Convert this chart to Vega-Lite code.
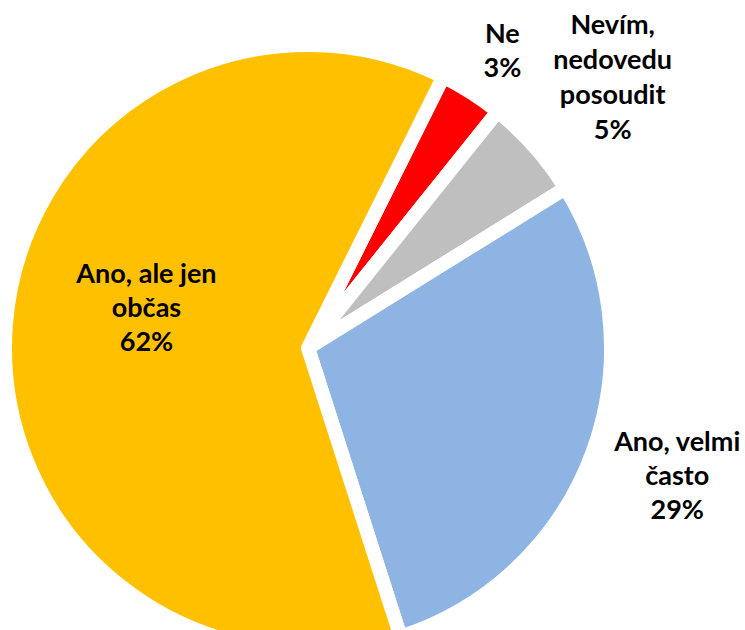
{
  "$schema": "https://vega.github.io/schema/vega-lite/v6.json",
  "width": 616,
  "height": 564,
  "autosize": {"type": "none"},
  "padding": {"left": 0, "top": 66, "right": 129, "bottom": 0},
  "background": "white",
  "view": {"stroke": null},
  "data": {
    "values": [
      {"i": 1, "cat": "Ne", "value": 3.4, "label": "Ne\n3%"},
      {"i": 2, "cat": "Nevím, nedovedu posoudit", "value": 5.4, "label": "Nevím,\nnedovedu\nposoudit\n5%"},
      {"i": 3, "cat": "Ano, velmi často", "value": 28.9, "label": "Ano, velmi\nčasto\n29%"},
      {"i": 4, "cat": "Ano, ale jen občas", "value": 62.3, "label": "Ano, ale jen\nobčas\n62%"}
    ]
  },
  "encoding": {
    "theta": {"field": "value", "type": "quantitative", "stack": true, "scale": {"range": [0.4625, 6.7457]}},
    "order": {"field": "i", "type": "quantitative"},
    "detail": {"field": "cat", "type": "nominal"}
  },
  "layer": [
    {
      "mark": {"type": "arc", "radius": 303, "stroke": "white", "strokeWidth": 14, "strokeJoin": "round"},
      "encoding": {
        "color": {
          "field": "cat", "type": "nominal", "legend": null,
          "scale": {
            "domain": ["Ne", "Nevím, nedovedu posoudit", "Ano, velmi často", "Ano, ale jen občas"],
            "range": ["#FF0000", "#BFBFBF", "#8EB4E3", "#FFC000"]
          }
        }
      }
    },
    {
      "mark": {"type": "text", "radius": 355, "dx": 3, "dy": -14, "font": "Lato", "fontWeight": "bold", "fontSize": 27, "lineBreak": "\n", "lineHeight": 34, "baseline": "middle", "align": "center", "color": "black"},
      "encoding": {"text": {"condition": {"test": "datum.cat === 'Ne'", "field": "label"}, "value": ""}}
    },
    {
      "mark": {"type": "text", "radius": 407, "dy": -52, "font": "Lato", "fontWeight": "bold", "fontSize": 27, "lineBreak": "\n", "lineHeight": 35, "baseline": "middle", "align": "center", "color": "black"},
      "encoding": {"text": {"condition": {"test": "datum.cat === 'Nevím, nedovedu posoudit'", "field": "label"}, "value": ""}}
    },
    {
      "mark": {"type": "text", "radius": 387, "dx": 6, "dy": -39, "font": "Lato", "fontWeight": "bold", "fontSize": 27, "lineBreak": "\n", "lineHeight": 34, "baseline": "middle", "align": "center", "color": "black"},
      "encoding": {"text": {"condition": {"test": "datum.cat === 'Ano, velmi často'", "field": "label"}, "value": ""}}
    },
    {
      "mark": {"type": "text", "radius": 167, "dx": 5, "dy": -60, "font": "Lato", "fontWeight": "bold", "fontSize": 27, "lineBreak": "\n", "lineHeight": 34, "baseline": "middle", "align": "center", "color": "black"},
      "encoding": {"text": {"condition": {"test": "datum.cat === 'Ano, ale jen občas'", "field": "label"}, "value": ""}}
    }
  ]
}
